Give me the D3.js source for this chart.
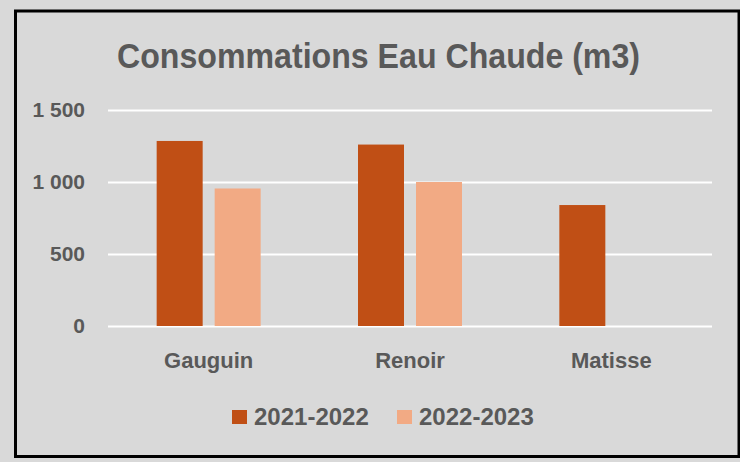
<!DOCTYPE html>
<html>
<head>
<meta charset="utf-8">
<script src="https://cdn.jsdelivr.net/npm/d3@7"></script>
<style>
  html, body { margin: 0; padding: 0; background: #d9d9d9; }
  text { font-family: "Liberation Sans", Arial, sans-serif; font-weight: bold; fill: #595959; }
</style>
</head>
<body>
<div id="container"></div>
<script>
/** DATA */
const title = "Consommations Eau Chaude (m3)";
const categories = ["Gauguin", "Renoir", "Matisse"];
const series = ["2021-2022", "2022-2023"];
const values2122 = [1285, 1260, 840];
const values2223 = [955, 1000, null];
const tickValues = [0, 500, 1000, 1500];
const colors = ["#c04f15", "#f2aa84"];

/** CONSTANTS */
const width = 740,
  height = 462,
  plot = { left: 108, right: 712, top: 110, bottom: 326 };

const svg = d3.select("#container")
  .append("svg")
  .attr("width", width)
  .attr("height", height)
  .style("display", "block");

// chart frame
svg.append("rect")
  .attr("x", 15.5)
  .attr("y", 11)
  .attr("width", 723.5)
  .attr("height", 445.5)
  .attr("fill", "#d9d9d9")
  .attr("stroke", "#000")
  .attr("stroke-width", 3);

svg.append("text")
  .attr("x", 378.5)
  .attr("y", 68)
  .attr("text-anchor", "middle")
  .attr("font-size", 35)
  .attr("textLength", 523)
  .attr("lengthAdjust", "spacingAndGlyphs")
  .text(title);

/** SCALES */
const y = d3.scaleLinear()
  .domain([0, 1500])
  .range([plot.bottom, plot.top]);

const x0 = d3.scaleBand()
  .domain(categories)
  .range([plot.left, plot.right])
  .padding(0);

const x1 = d3.scaleBand()
  .domain(series)
  .range([0, 104])
  .paddingInner(0.207);

const fr = d3.formatLocale({ decimal: ",", thousands: "\u00a0", grouping: [3], currency: ["", " €"] });

// gridlines + tick labels
const yAxis = svg.append("g")
  .attr("transform", `translate(${plot.left},0)`)
  .call(d3.axisLeft(y)
    .tickValues(tickValues)
    .tickSize(-(plot.right - plot.left))
    .tickPadding(23)
    .tickFormat(fr.format(",")));

yAxis.select(".domain").remove();
yAxis.selectAll("line").attr("stroke", "#fff").attr("stroke-width", 2);
yAxis.selectAll("text")
  .attr("font-size", 21)
  .attr("font-family", null)
  .attr("fill", "#595959");

/** BARS */
const rows = categories.map((c, i) => ({ cat: c, vals: [values2122[i], values2223[i]] }));

const groups = svg.selectAll(".group")
  .data(rows)
  .join("g")
  .attr("class", "group")
  .attr("transform", d => `translate(${x0(d.cat) + x0.bandwidth() / 2 - 52},0)`);

groups.selectAll("rect")
  .data(d => d.vals.map((v, j) => ({ s: series[j], v, j })).filter(e => e.v != null))
  .join("rect")
  .attr("x", d => x1(d.s))
  .attr("width", x1.bandwidth())
  .attr("y", d => y(d.v))
  .attr("height", d => y(0) - y(d.v))
  .attr("fill", d => colors[d.j]);

// category labels
svg.selectAll(".cat")
  .data(categories)
  .join("text")
  .attr("class", "cat")
  .attr("x", d => x0(d) + x0.bandwidth() / 2)
  .attr("y", 368)
  .attr("text-anchor", "middle")
  .attr("font-size", 22)
  .text(d => d);

/** LEGEND */
const legend = svg.selectAll(".legend")
  .data(series)
  .join("g")
  .attr("class", "legend")
  .attr("transform", (d, i) => `translate(${232 + i * 165},410)`);

legend.append("rect")
  .attr("width", 15)
  .attr("height", 14)
  .attr("fill", (d, i) => colors[i]);

legend.append("text")
  .attr("x", 22)
  .attr("y", 15)
  .attr("font-size", 24)
  .text(d => d);
</script>
</body>
</html>
